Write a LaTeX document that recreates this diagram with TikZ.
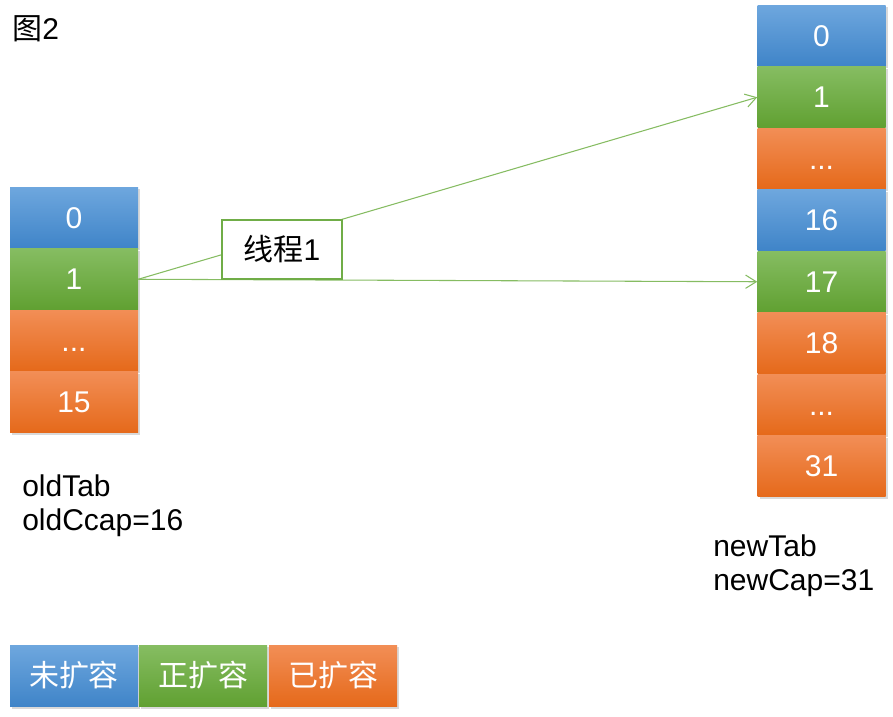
\documentclass[tikz,border=0pt]{standalone}
\usepackage{fontspec}
\setmainfont{Liberation Sans}
\newfontfamily\cjk{Noto Sans CJK SC}
\usetikzlibrary{shadows,arrows.meta}

\definecolor{bluetop}{HTML}{6EA7DE}
\definecolor{bluebot}{HTML}{3F84C8}
\definecolor{greentop}{HTML}{86BD62}
\definecolor{greenbot}{HTML}{60A031}
\definecolor{orangetop}{HTML}{F28E56}
\definecolor{orangebot}{HTML}{E5691A}
\definecolor{lineclr}{HTML}{86BC62}
\definecolor{boxclr}{HTML}{70AD47}

\tikzset{
    cell/.style={minimum width=96pt, minimum height=46.1pt, inner sep=0pt,
        text=white, font=\fontsize{22.5}{26}\selectfont,
        text height=16pt, text depth=0pt,
        drop shadow={shadow xshift=1.5pt, shadow yshift=-1.5pt, opacity=0.3}},
    todo/.style={cell, top color=bluetop, bottom color=bluebot},
    doing/.style={cell, top color=greentop, bottom color=greenbot},
    done/.style={cell, top color=orangetop, bottom color=orangebot},
    label/.style={anchor=base west, align=left, inner sep=0pt,
        font=\fontsize{22.5}{25.5}\selectfont},
}

\begin{document}
\begin{tikzpicture}[x=0.75pt, y=-0.75pt, >={Straight Barb[length=8pt,width=10pt]}]
        \useasboundingbox (0, 0) rectangle (893, 717);

        \node[label] (title) at (12, 40) {{\cjk 图}2};

        % old table
        \node[todo]  (old0)  at (74, 217.75) {0};
        \node[doing] (old1)  at (74, 279.25) {1};
        \node[done]  (oldd)  at (74, 340.75) {...};
        \node[done]  (old15) at (74, 402.25) {15};
        \node[label] (oldlbl) at (22, 530) {oldTab\\oldCcap=16};

        % new table
        \node[todo]  (new0)  at (821.5, 35.75) {0};
        \node[doing] (new1)  at (821.5, 97.25) {1};
        \node[done]  (newd)  at (821.5, 158.75) {...};
        \node[todo]  (new16) at (821.5, 220.25) {16};
        \node[doing] (new17) at (821.5, 281.75) {17};
        \node[done]  (new18) at (821.5, 343.25) {18};
        \node[done]  (newe)  at (821.5, 404.75) {...};
        \node[done]  (new31) at (821.5, 466.25) {31};
        \node[label] (newlbl) at (713, 590) {newTab\\newCap=31};

        % moves
        \draw[->, lineclr, line width=0.8pt] (old1.east) -- (new1.west);
        \draw[->, lineclr, line width=0.8pt] (old1.east) -- (new17.west);
        \node[draw=boxclr, line width=1.2pt, fill=white, minimum width=90pt,
            minimum height=44pt, font=\fontsize{22.5}{26}\selectfont] (thread)
            at (282, 249.5) {{\cjk 线程}1};

        % legend
        \node[todo]  (keytodo)  at (74, 676) {\cjk 未扩容};
        \node[doing] (keydoing) at (203, 676) {\cjk 正扩容};
        \node[done]  (keydone)  at (333, 676) {\cjk 已扩容};
    \end{tikzpicture}
\end{document}
